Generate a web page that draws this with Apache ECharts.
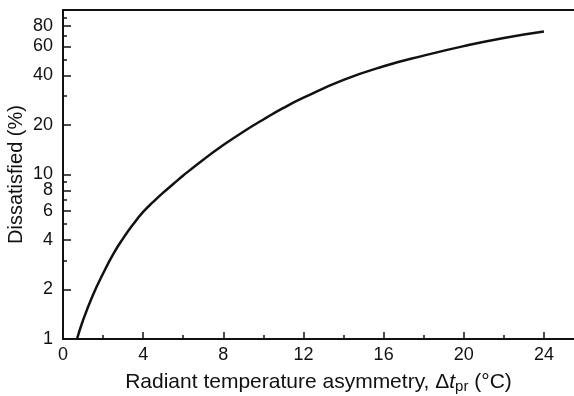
<!DOCTYPE html>
<html>
<head>
<meta charset="utf-8">
<script src="https://cdn.jsdelivr.net/npm/echarts@6/dist/echarts.min.js"></script>
<style>
  html, body { margin: 0; padding: 0; background: #fff; }
  #chart { width: 574px; height: 396px; }
</style>
</head>
<body>
<div id="chart"></div>
<script>
// Radiant temperature asymmetry (°C) and percentage dissatisfied
const asymmetry = [0.7, 1, 1.5, 2, 2.5, 3, 3.5, 4, 4.5, 5, 5.5, 6, 7, 8, 9, 10, 11, 12, 14, 16, 18, 20, 22, 24];
const dissatisfied = [1.0, 1.3, 1.86, 2.5, 3.27, 4.09, 4.98, 5.92, 6.81, 7.76, 8.75, 9.86, 12.3, 15.1, 18.2, 21.6, 25.4, 29.3, 37.6, 45.5, 52.8, 60.3, 67.6, 74];

const xMajorTicks = [0, 4, 8, 12, 16, 20, 24];
const xMinorTicks = [2, 6, 10, 14, 18, 22];
const yMajorTicks = [1, 2, 4, 6, 8, 10, 20, 40, 60, 80];
const yMinorTicks = [3, 5, 7, 9, 30, 50, 70, 90];

const ink = '#111';
const font = 'Liberation Sans, Arial, Helvetica, sans-serif';

const chart = echarts.init(document.getElementById('chart'), null, { renderer: 'canvas' });

const points = asymmetry.map((x, i) => [x, dissatisfied[i]]);

chart.setOption({
  animation: false,
  backgroundColor: '#fff',
  grid: { left: 63, right: 0, top: 10, bottom: 57, containLabel: false, outerBoundsMode: 'none' },
  xAxis: [
    {
      type: 'value', position: 'bottom', min: 0, max: 25.5,
      axisLine: { show: true, lineStyle: { color: ink, width: 2 } },
      axisTick: { show: true, inside: true, length: 7, customValues: xMajorTicks, lineStyle: { color: ink, width: 1.5 } },
      axisLabel: { customValues: xMajorTicks, margin: 7, color: ink, fontSize: 18, fontFamily: font },
      splitLine: { show: false },
      name: '{a|Radiant temperature asymmetry, Δ}{i|t}{s|pr}{a| (°C)}',
      nameLocation: 'middle', nameGap: 31,
      nameTextStyle: {
        rich: {
          a: { fontSize: 21, color: ink, fontFamily: font },
          i: { fontSize: 21, color: ink, fontFamily: font, fontStyle: 'italic' },
          s: { fontSize: 15, color: ink, fontFamily: font, padding: [9, 0, 0, 0] }
        }
      }
    },
    {
      type: 'value', position: 'bottom', min: 0, max: 25.5,
      axisLine: { show: false },
      axisTick: { show: true, inside: true, length: 4, customValues: xMinorTicks, lineStyle: { color: ink, width: 1.5 } },
      axisLabel: { show: false },
      splitLine: { show: false }
    },
    {
      type: 'value', position: 'top', min: 0, max: 25.5,
      axisLine: { show: true, lineStyle: { color: ink, width: 2 } },
      axisTick: { show: false },
      axisLabel: { show: false },
      splitLine: { show: false }
    }
  ],
  yAxis: [
    {
      type: 'log', logBase: 10, min: 1, max: 100,
      axisLine: { show: true, lineStyle: { color: ink, width: 2 } },
      axisTick: { show: true, inside: true, length: 8, customValues: yMajorTicks, lineStyle: { color: ink, width: 1.5 } },
      axisLabel: { customValues: yMajorTicks, margin: 10, color: ink, fontSize: 18, fontFamily: font },
      splitLine: { show: false },
      minorTick: { show: false },
      name: 'Dissatisfied (%)', nameLocation: 'middle', nameGap: 37, nameMoveOverlap: false,
      nameTextStyle: { fontSize: 20, color: ink, fontFamily: font }
    },
    {
      type: 'log', logBase: 10, min: 1, max: 100, position: 'left',
      axisLine: { show: false },
      axisTick: { show: true, inside: true, length: 4, customValues: yMinorTicks, lineStyle: { color: ink, width: 1.5 } },
      axisLabel: { show: false },
      splitLine: { show: false }
    }
  ],
  series: [
    {
      type: 'line', xAxisIndex: 0, yAxisIndex: 0,
      data: points, smooth: true, showSymbol: false,
      lineStyle: { color: ink, width: 2.5 }
    }
  ]
});
</script>
</body>
</html>
